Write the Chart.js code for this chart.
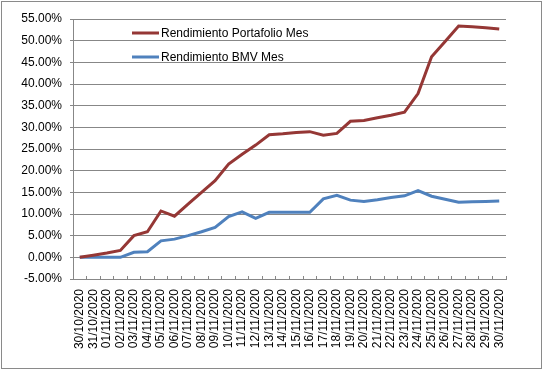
<!DOCTYPE html>
<html>
<head>
<meta charset="utf-8">
<script src="https://cdn.jsdelivr.net/npm/chart.js@4.4.1/dist/chart.umd.min.js"></script>
<style>
  html, body { margin: 0; padding: 0; background: #fff; }
  canvas { display: block; }
</style>
</head>
<body>
<canvas id="chart" width="546" height="373"></canvas>
<script>
// Fechas (eje X)
const fechas = [
    '30/10/2020', '31/10/2020', '01/11/2020', '02/11/2020', '03/11/2020', '04/11/2020',
    '05/11/2020', '06/11/2020', '07/11/2020', '08/11/2020', '09/11/2020', '10/11/2020',
    '11/11/2020', '12/11/2020', '13/11/2020', '14/11/2020', '15/11/2020', '16/11/2020',
    '17/11/2020', '18/11/2020', '19/11/2020', '20/11/2020', '21/11/2020', '22/11/2020',
    '23/11/2020', '24/11/2020', '25/11/2020', '26/11/2020', '27/11/2020', '28/11/2020',
    '29/11/2020', '30/11/2020'
];

// Rendimientos en %
const rendPortafolio = [
    0, 0.5, 1.0, 1.6, 5.0, 5.9, 10.7, 9.5, 12.3, 15.0, 17.7, 21.5,
    23.8, 25.9, 28.3, 28.5, 28.8, 29.0, 28.2, 28.6, 31.4, 31.6, 32.2, 32.8,
    33.5, 37.8, 46.3, 49.8, 53.4, 53.2, 53.0, 52.7
];

const rendBMV = [
    0, 0, 0, 0, 1.15, 1.3, 3.8, 4.2, 5.0, 5.9, 6.9, 9.4,
    10.5, 9.0, 10.4, 10.4, 10.4, 10.4, 13.5, 14.3, 13.2, 12.9, 13.3, 13.8,
    14.2, 15.4, 14.1, 13.4, 12.7, 12.8, 12.9, 13.0
];

// Escala Y
const yMin = -5;
const yMax = 55;
const yPaso = 5;

const gris = '#878787';
const fuente = { family: 'Liberation Sans, Arial, sans-serif', size: 12 };

// Marco exterior de la imagen
const marco = {
    id: 'marco',
    beforeDraw(chart) {
        const ctx = chart.ctx;
        ctx.save();
        ctx.fillStyle = '#fff';
        ctx.fillRect(0, 0, chart.width, chart.height);
        ctx.strokeStyle = '#8a8a8a';
        ctx.lineWidth = 1;
        ctx.strokeRect(1.5, 1.5, 540, 367);
        ctx.restore();
    }
};

// Leyenda dentro del area del grafico
const leyendaInterna = {
    id: 'leyendaInterna',
    afterDraw(chart) {
        const ctx = chart.ctx;
        ctx.save();
        chart.data.datasets.forEach((ds, i) => {
            const y = 33 + i * 24;
            ctx.strokeStyle = ds.borderColor;
            ctx.lineWidth = 3;
            ctx.beginPath();
            ctx.moveTo(132, y);
            ctx.lineTo(159, y);
            ctx.stroke();
            ctx.fillStyle = '#000';
            ctx.font = '12px ' + fuente.family;
            ctx.textBaseline = 'middle';
            ctx.fillText(ds.label, 161, y + 1);
        });
        ctx.restore();
    }
};

new Chart(document.getElementById('chart').getContext('2d'), {
    type: 'line',
    data: {
        labels: fechas,
        datasets: [
            {
                label: 'Rendimiento Portafolio Mes',
                data: rendPortafolio,
                borderColor: '#953735',
                borderWidth: 3,
                pointRadius: 0,
                tension: 0,
                fill: false
            },
            {
                label: 'Rendimiento BMV Mes',
                data: rendBMV,
                borderColor: '#4f81bd',
                borderWidth: 3,
                pointRadius: 0,
                tension: 0,
                fill: false
            }
        ]
    },
    options: {
        responsive: false,
        animation: false,
        devicePixelRatio: 1,
        layout: { padding: { left: 0, top: 19, right: 40, bottom: 0 } },
        plugins: {
            legend: { display: false },
            tooltip: { enabled: false }
        },
        scales: {
            x: {
                offset: true,
                afterFit: s => { s.height = 94; },
                grid: {
                    offset: true,
                    drawOnChartArea: false,
                    drawTicks: true,
                    tickLength: -3,
                    color: gris
                },
                border: { color: gris },
                ticks: {
                    autoSkip: false,
                    maxRotation: 90,
                    minRotation: 90,
                    padding: 13,
                    color: '#000',
                    font: fuente
                }
            },
            y: {
                min: yMin,
                max: yMax,
                afterFit: s => { s.width = 73; },
                grid: {
                    color: gris,
                    tickLength: 3
                },
                border: { color: gris },
                ticks: {
                    stepSize: yPaso,
                    padding: 8,
                    color: '#000',
                    font: fuente,
                    callback: v => v.toFixed(2) + '%'
                }
            }
        }
    },
    plugins: [marco, leyendaInterna]
});
</script>
</body>
</html>
